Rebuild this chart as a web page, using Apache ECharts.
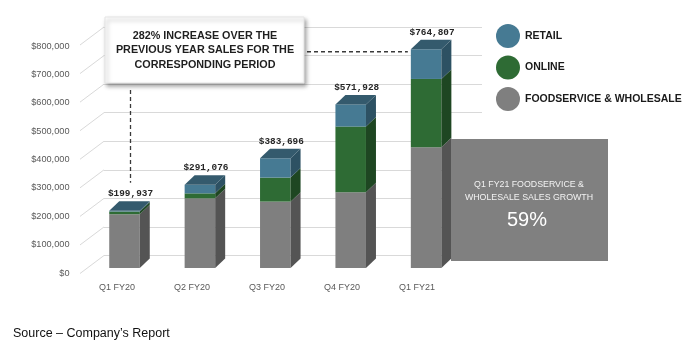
<!DOCTYPE html>
<html>
<head>
<meta charset="utf-8">
<script src="https://cdn.jsdelivr.net/npm/echarts@6/dist/echarts.min.js"></script>
<style>
  html, body { margin: 0; padding: 0; background: #ffffff; }
  #chart { width: 700px; height: 349px; }
</style>
</head>
<body>
<div id="chart"></div>
<script>
// Quarterly sales by channel (USD)
const categories   = ['Q1 FY20', 'Q2 FY20', 'Q3 FY20', 'Q4 FY20', 'Q1 FY21'];
const foodservice  = [188000, 243500, 232000, 265000, 422000];
const online       = [9500, 17500, 84000, 229500, 239000];
const retail       = [2437, 30076, 67696, 77428, 103807];
const yTicks       = [0, 100000, 200000, 300000, 400000, 500000, 600000, 700000, 800000];

const seriesNames = ['FOODSERVICE & WHOLESALE', 'ONLINE', 'RETAIL'];
const stacks = [foodservice, online, retail];

const FONT = '"Liberation Sans", Arial, sans-serif';
const DX = 10, DY = 9.5;          // extrusion of the pseudo-3D bars
const BAR_RATIO = 0.405;

// front / side / top shades for each channel
const shades = [
  { front: '#7f7f7f', side: '#545454', top: '#6a6a6a' },
  { front: '#2e6b34', side: '#1e4622', top: '#24562a' },
  { front: '#467a93', side: '#2d5163', top: '#345a6d' }
];

function money(v) { return '$' + v.toLocaleString('en-US'); }

function makeRender(k) {
  return function (params, api) {
    const i = params.dataIndex;
    let base = 0;
    for (let j = 0; j < k; j++) base += stacks[j][i];
    const val = stacks[k][i];
    const top = api.coord([i, base + val]);
    const bot = api.coord([i, base]);
    const bw = api.size([1, 0])[0] * BAR_RATIO;
    const x0 = top[0] - bw / 2, x1 = top[0] + bw / 2;
    const yT = top[1], yB = bot[1];
    const c = shades[k];
    const children = [
      { type: 'rect', shape: { x: x0, y: yT, width: bw, height: yB - yT },
        style: { fill: c.front } },
      { type: 'polygon', shape: { points: [[x1, yT], [x1 + DX, yT - DY], [x1 + DX, yB - DY], [x1, yB]] },
        style: { fill: c.side } }
    ];
    if (k === stacks.length - 1) {
      const total = base + val;
      children.push({ type: 'polygon',
        shape: { points: [[x0, yT], [x1, yT], [x1 + DX, yT - DY], [x0 + DX, yT - DY]] },
        style: { fill: c.top } });
      children.push({ type: 'text',
        style: { text: money(total), x: top[0] + DX / 2 + 1, y: yT - 17,
                 textAlign: 'center', textVerticalAlign: 'middle',
                 font: 'bold 9.4px "Liberation Mono", "DejaVu Sans Mono", monospace', fill: '#262626' } });
      // connectors from the callout box
      if (i === 0) {
        children.push({ type: 'line',
          shape: { x1: top[0] + DX / 2 + 1, y1: 90, x2: top[0] + DX / 2 + 1, y2: yT - 28 },
          style: { stroke: '#3a3a3a', lineWidth: 1.3, lineDash: [4, 3] } });
      }
      if (i === categories.length - 1) {
        children.push({ type: 'line',
          shape: { x1: 307, y1: yT + 2.5, x2: x0 - 3, y2: yT + 2.5 },
          style: { stroke: '#3a3a3a', lineWidth: 1.3, lineDash: [4, 3] } });
      }
    }
    return { type: 'group', children: children };
  };
}

const chart = echarts.init(document.getElementById('chart'), null, { renderer: 'canvas' });

const barSeries = stacks.map((arr, k) => ({
  name: seriesNames[k],
  type: 'custom',
  xAxisIndex: 0,
  yAxisIndex: 0,
  z: 5,
  itemStyle: { color: shades[k].front },
  renderItem: makeRender(k),
  data: arr.map((v, i) => [i, v])
}));

chart.setOption({
  animation: false,
  backgroundColor: '#ffffff',
  grid: [
    // front plane of the bars
    { left: 86.8, right: 236.2, top: 39.2, bottom: 81 },
    // back wall carrying the gridlines
    { left: 104, right: 218, top: 27, bottom: 93.5 },
    // plane of the axis labels
    { left: 79.5, right: 245.5, top: 46, bottom: 76 }
  ],
  xAxis: [
    { gridIndex: 0, type: 'category', data: categories, show: false },
    { gridIndex: 1, type: 'value', min: 0, max: 1, show: false },
    { gridIndex: 2, type: 'category', data: categories,
      axisLine: { show: false }, axisTick: { show: false },
      axisLabel: { margin: 10, fontSize: 9, color: '#595959', fontFamily: FONT } }
  ],
  yAxis: [
    { gridIndex: 0, type: 'value', min: 0, max: 800000, show: false },
    { gridIndex: 1, type: 'value', min: 0, max: 800000, interval: 100000,
      axisLine: { show: false }, axisTick: { show: false }, axisLabel: { show: false },
      splitLine: { show: true, lineStyle: { color: '#d9d9d9', width: 1 } } },
    { gridIndex: 2, type: 'value', min: 0, max: 800000, interval: 100000,
      axisLine: { show: false }, axisTick: { show: false }, splitLine: { show: false },
      axisLabel: { margin: 10, fontSize: 9.2, color: '#595959', fontFamily: FONT,
                   formatter: v => money(v) } }
  ],
  legend: {
    orient: 'vertical', left: 496, top: 24, padding: 0,
    icon: 'circle', itemWidth: 24, itemHeight: 24, itemGap: 7.5,
    data: ['RETAIL', 'ONLINE', 'FOODSERVICE & WHOLESALE'],
    textStyle: { fontWeight: 'bold', fontSize: 10.5, color: '#1a1a1a', fontFamily: FONT }
  },
  series: [
    {
      // side-wall gridlines running into the back wall
      type: 'custom', xAxisIndex: 1, yAxisIndex: 1, silent: true, z: 1,
      renderItem: function (params, api) {
        const p = api.coord([0, api.value(1)]);
        return { type: 'line', shape: { x1: p[0] - 24, y1: p[1] + 18, x2: p[0], y2: p[1] },
                 style: { stroke: '#d9d9d9', lineWidth: 1 } };
      },
      data: yTicks.map(v => [0, v])
    }
  ].concat(barSeries),
  graphic: [
    { type: 'rect', z: 10, shape: { x: 105, y: 17, width: 199, height: 66 },
      style: { fill: '#ffffff', stroke: '#e4e4e4', lineWidth: 1,
               shadowBlur: 4, shadowOffsetX: 2, shadowOffsetY: 3, shadowColor: 'rgba(0,0,0,0.35)' } },
    { type: 'text', z: 11,
      style: { text: '282% INCREASE OVER THE\nPREVIOUS YEAR SALES FOR THE\nCORRESPONDING PERIOD',
               x: 205, y: 50.3, textAlign: 'center', textVerticalAlign: 'middle',
               lineHeight: 14.3, font: 'bold 10.8px ' + FONT, fill: '#1f1f1f' } },
    { type: 'rect', z: 10, shape: { x: 451, y: 139, width: 157, height: 122 },
      style: { fill: '#808080' } },
    { type: 'text', z: 11,
      style: { text: 'Q1 FY21 FOODSERVICE &\nWHOLESALE SALES GROWTH', x: 529, y: 191.5,
               textAlign: 'center', textVerticalAlign: 'middle', lineHeight: 13,
               font: '8.8px ' + FONT, fill: '#f2f2f2' } },
    { type: 'text', z: 11,
      style: { text: '59%', x: 527, y: 220, textAlign: 'center', textVerticalAlign: 'middle',
               font: '20px ' + FONT, fill: '#ffffff' } },
    { type: 'text', z: 11,
      style: { text: 'Source \u2013 Company\u2019s Report', x: 13, y: 334,
               textAlign: 'left', textVerticalAlign: 'middle',
               font: '12.5px ' + FONT, fill: '#111111' } }
  ]
});
</script>
</body>
</html>
